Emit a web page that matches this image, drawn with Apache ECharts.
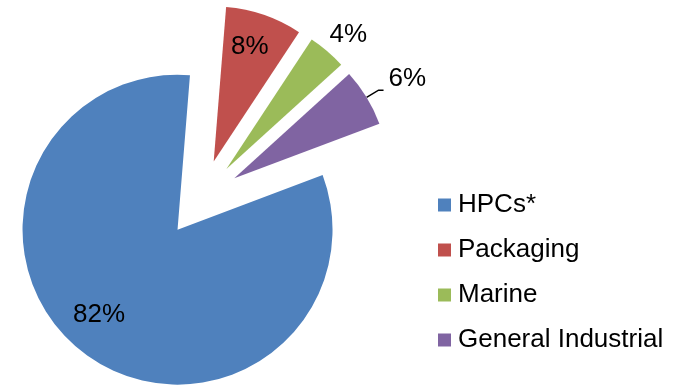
<!DOCTYPE html>
<html>
<head>
<meta charset="utf-8">
<style>
  html, body { margin: 0; padding: 0; background: #ffffff; }
  #chart { width: 681px; height: 385px; }
</style>
<script src="https://cdn.jsdelivr.net/npm/echarts@6/dist/echarts.min.js"></script>
</head>
<body>
<div id="chart"></div>
<script>
// Segment names and their share of the total (percent)
const categories = ['HPCs*', 'Packaging', 'Marine', 'General Industrial'];
const shares = [82, 8, 4, 6];
const colors = ['#4F81BD', '#C0504D', '#9BBB59', '#8064A2'];

// Per-slice label placement: inside labels get a nudge, outside labels use leader settings
const labelStyles = [
  { position: 'inside', nudge: [-30, 21] },
  { position: 'inside', nudge: [10, -39] },
  { position: 'outside', line: false, length: 22, length2: -17 },
  { position: 'outside', line: true, length: 14, length2: 5, nudge: [0, -11] }
];

const FONT = '"Liberation Sans", Arial, sans-serif';

const data = categories.map((name, i) => {
  const s = labelStyles[i];
  const item = {
    name: name,
    value: shares[i],
    selected: true,
    itemStyle: { color: colors[i] },
    label: { position: s.position }
  };
  if (s.position === 'outside') {
    item.labelLine = { show: s.line, length: s.length, length2: s.length2 };
  }
  return item;
});

const chart = echarts.init(document.getElementById('chart'), null, { renderer: 'canvas' });
chart.setOption({
  animation: false,
  backgroundColor: '#ffffff',
  legend: {
    orient: 'vertical',
    left: 438,
    top: 192,
    padding: 0,
    itemWidth: 13,
    itemHeight: 13,
    itemGap: 19,
    icon: 'rect',
    selectedMode: false,
    data: categories,
    textStyle: { fontFamily: FONT, fontSize: 26, color: '#000000', lineHeight: 26, padding: [0, 0, 0, 2] }
  },
  series: [{
    type: 'pie',
    center: [201, 198.5],
    radius: [0, 155],
    startAngle: 20.6,
    clockwise: true,
    selectedMode: 'multiple',
    selectedOffset: 39,
    avoidLabelOverlap: false,
    data: data,
    label: {
      show: true,
      formatter: '{c}%',
      fontFamily: FONT,
      fontSize: 26,
      color: '#000000'
    },
    labelLine: {
      lineStyle: { color: '#000000', width: 1.5 },
      smooth: false
    },
    labelLayout: function (params) {
      const s = labelStyles[params.dataIndex];
      if (s.nudge) return { dx: s.nudge[0], dy: s.nudge[1] };
      return {};
    },
    emphasis: { disabled: true },
    itemStyle: { borderWidth: 0 }
  }]
});
</script>
</body>
</html>
